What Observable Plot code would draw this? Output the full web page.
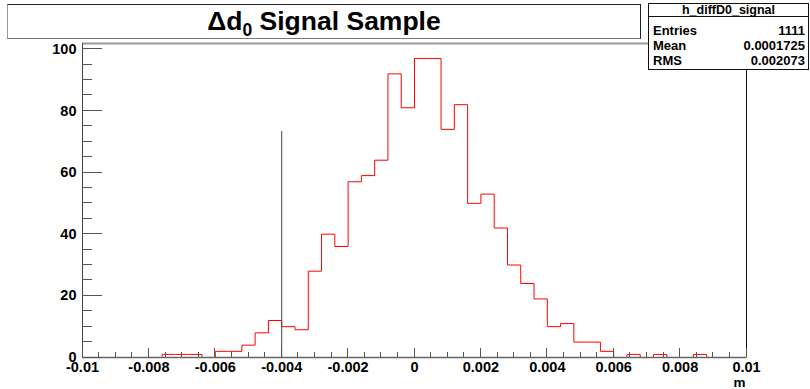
<!DOCTYPE html>
<html>
<head>
<meta charset="utf-8">
<script src="https://cdn.jsdelivr.net/npm/d3@7"></script>
<script src="https://cdn.jsdelivr.net/npm/@observablehq/plot@0.6"></script>
<style>
  html, body { margin: 0; padding: 0; background: #fff; }
  #wrap { position: relative; width: 810px; height: 389px; overflow: hidden; font-family: "Liberation Sans", Arial, Helvetica, sans-serif; }
  #title { position: absolute; left: 7px; top: 4px; width: 634px; height: 35px; box-sizing: border-box;
           border: 1px solid #222; border-left-color: #999; border-bottom-color: #777; background: #fff;
           text-align: center; font-weight: bold; font-size: 26.5px; line-height: 32px; color: #000; }
  #title sub { font-size: 0.66em; vertical-align: -0.32em; line-height: 0; }
  #stats { position: absolute; left: 648px; top: 3px; width: 161px; height: 67px; box-sizing: border-box;
           border: 1px solid #111; background: #fff; color: #000; font-weight: bold; font-size: 13px; }
  #stats .hdr { position: absolute; left: 0; right: 0; top: 0; height: 12px; border-bottom: 1px solid #111;
                text-align: center; line-height: 13px; font-size: 12.5px; }
  #stats .row { position: absolute; left: 4px; right: 3px; height: 15px; line-height: 15px; }
  #stats .row span.v { position: absolute; right: 0; }
</style>
</head>
<body>
<div id="wrap"></div>
<script>
// ---- data ----
const histName = "h_diffD0_signal";
const titleText = "Signal Sample";
const xMin = -0.01, xMax = 0.01, nBins = 50;
// counts per bin, bins of width 0.0004 from -0.01 to 0.01
const counts = [
  0, 0, 0, 0, 0, 0, 1, 1, 1, 0,
  2, 2, 4, 8, 12, 10, 9, 28, 40, 36,
  57, 59, 64, 92, 81, 97, 97, 74, 82, 50,
  53, 42, 30, 24, 19, 10, 11, 5, 5, 2,
  0, 1, 0, 1, 0, 0, 1, 0, 0, 0
];
const cutX = -0.004;
const cutTop = 73.3;
const xTicks = [-0.01, -0.008, -0.006, -0.004, -0.002, 0, 0.002, 0.004, 0.006, 0.008, 0.01];
const yTicks = [0, 20, 40, 60, 80, 100];
const statLabels = ["Entries", "Mean", "RMS"];
const statValues = ["1111", "0.0001725", "0.002073"];
const xUnit = "m";

// ---- derived ----
const binW = (xMax - xMin) / nBins;
const steps = counts.map((c, i) => ({x: xMin + i * binW, y: c}));
steps.push({x: xMax, y: 0});
const yMax = 1.05 * d3.max(counts);
const xMinorTicks = d3.range(0, 41).map(i => ({v: xMin + i * 0.0005, major: i % 4 === 0}));
const yMinorTicks = d3.range(0, 21).map(i => ({v: i * 5, major: i % 4 === 0}));
const fmtX = d => d === 0 ? "0" : String(+d.toFixed(4));

function tickMarks(index, scales) {
  const {x, y} = scales;
  const g = d3.create("svg:g").attr("stroke", "#555").attr("stroke-width", 1).attr("shape-rendering", "crispEdges");
  const y0 = y(0), x0 = x(xMin);
  for (const t of xMinorTicks) {
    g.append("line").attr("x1", x(t.v)).attr("x2", x(t.v)).attr("y1", y0).attr("y2", y0 - (t.major ? 9.5 : 5));
  }
  for (const t of yMinorTicks) {
    g.append("line").attr("x1", x0).attr("x2", x0 + (t.major ? 20 : 10)).attr("y1", y(t.v)).attr("y2", y(t.v));
  }
  return g.node();
}

const chart = Plot.plot({
  width: 810,
  height: 389,
  marginLeft: 82,
  marginRight: 64,
  marginTop: 43,
  marginBottom: 32,
  x: {domain: [xMin, xMax]},
  y: {domain: [0, yMax]},
  style: {fontFamily: "'Liberation Sans', Arial, Helvetica, sans-serif", background: "transparent", color: "#000"},
  marks: [
    Plot.line(steps, {x: "x", y: "y", curve: "step-after", stroke: "#ff0000", strokeWidth: 1}),
    Plot.ruleX([cutX], {y1: 0, y2: cutTop, stroke: "#444", strokeWidth: 1}),
    Plot.ruleY([yMax], {stroke: "#999", strokeWidth: 2}),
    Plot.ruleX([xMax], {stroke: "#111", strokeWidth: 1}),
    Plot.ruleY([0], {stroke: "#666", strokeWidth: 1.5}),
    Plot.ruleX([xMin], {stroke: "#444", strokeWidth: 1}),
    tickMarks,
    Plot.axisX(xTicks, {tickSize: 0, tickPadding: 4.5, tickFormat: fmtX, fontSize: 14.5, fontWeight: "bold", label: null}),
    Plot.axisY(yTicks, {tickSize: 0, tickPadding: 6, fontSize: 14.5, fontWeight: "bold", label: null}),
    Plot.text([xUnit], {frameAnchor: "bottom-right", dy: 25, dx: -1, textAnchor: "end", lineAnchor: "middle", fontSize: 13.5, fontWeight: "bold"})
  ]
});

const wrap = document.getElementById("wrap");
wrap.appendChild(chart);

const title = document.createElement("div");
title.id = "title";
title.innerHTML = "Δd<sub>0</sub> " + titleText;
wrap.appendChild(title);

const stats = document.createElement("div");
stats.id = "stats";
const hdr = document.createElement("div");
hdr.className = "hdr";
hdr.textContent = histName;
stats.appendChild(hdr);
statLabels.forEach((lab, i) => {
  const r = document.createElement("div");
  r.className = "row";
  r.style.top = (19 + i * 15) + "px";
  const a = document.createElement("span");
  a.textContent = lab;
  const b = document.createElement("span");
  b.className = "v";
  b.textContent = statValues[i];
  r.appendChild(a); r.appendChild(b);
  stats.appendChild(r);
});
wrap.appendChild(stats);
</script>
</body>
</html>
